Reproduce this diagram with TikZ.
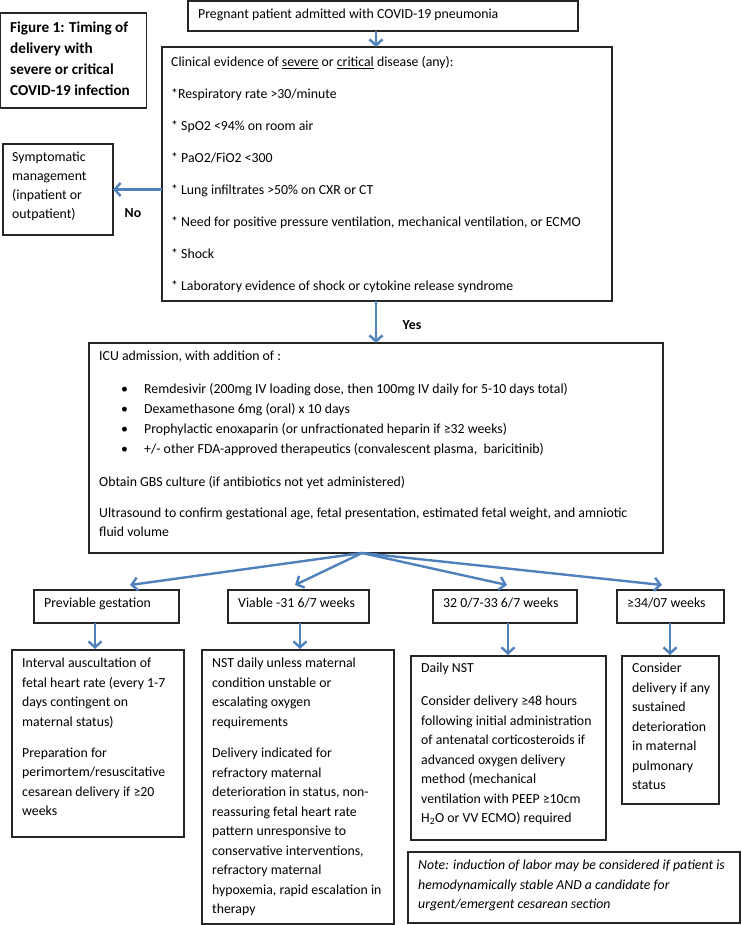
\documentclass[tikz,border=0pt]{standalone}
\usepackage{fontspec}
\setmainfont{Carlito}
\usetikzlibrary{arrows.meta,calc}
\definecolor{arrblue}{RGB}{79,129,189}
\begin{document}
\begin{tikzpicture}[x=1pt,y=-1pt,
  box/.style={draw=black!85,line width=1.2pt,anchor=north west,inner sep=0pt,outer sep=0pt},
  txt/.style={anchor=north west,inner sep=0pt,align=left,font=\fontsize{13.8}{19.5}\selectfont},
  lbl/.style={inner sep=0pt,font=\fontsize{13.8}{16}\selectfont\bfseries},
  arr/.style={draw=arrblue,line width=2.4pt,-{Straight Barb[length=6pt,width=13pt]}}
]
\useasboundingbox (0,0) rectangle (741,925);

% boxes
\node[box,minimum width=146pt,minimum height=95pt] (title) at (0.7,13) {};
\node[box,minimum width=390pt,minimum height=30pt] (top) at (188,1) {};
\node[box,minimum width=450pt,minimum height=254pt] (clin) at (162,47) {};
\node[box,minimum width=110pt,minimum height=91pt] (symp) at (3,144) {};
\node[box,minimum width=574pt,minimum height=210pt] (icu) at (89,343) {};
\node[box,minimum width=145pt,minimum height=33pt] (prev) at (34,590) {};
\node[box,minimum width=141pt,minimum height=33pt] (viab) at (228,590) {};
\node[box,minimum width=144pt,minimum height=33pt] (w32) at (433,590) {};
\node[box,minimum width=107pt,minimum height=33pt] (w34) at (617,590) {};
\node[box,minimum width=172pt,minimum height=187pt] (int) at (12,650) {};
\node[box,minimum width=192pt,minimum height=274pt] (nst) at (202,650) {};
\node[box,minimum width=195pt,minimum height=184pt] (dnst) at (411,656) {};
\node[box,minimum width=97pt,minimum height=148pt] (cons) at (622,656) {};
\node[box,minimum width=332pt,minimum height=71pt] (note) at (408,852) {};

% texts
\node[txt,font=\fontsize{15.2}{21}\selectfont\bfseries] (titletxt) at (10,22)
  {Figure 1: Timing of\\ delivery with\\ severe or critical\\ COVID-19 infection};
\node[txt] (toptxt) at (198,8.5) {Pregnant patient admitted with COVID-19 pneumonia};
\node[txt] (clintxt) at (171,56) {Clinical evidence of \underline{severe} or \underline{critical} disease (any):\\[12.5pt]
  *Respiratory rate >30/minute\\[12.5pt]
  * SpO2 <94\% on room air\\[12.5pt]
  * PaO2/FiO2 <300\\[12.5pt]
  * Lung infiltrates >50\% on CXR or CT\\[12.5pt]
  * Need for positive pressure ventilation, mechanical ventilation, or ECMO\\[12.5pt]
  * Shock\\[12.5pt]
  * Laboratory evidence of shock or cytokine release syndrome};
\node[txt,font=\fontsize{13.8}{19}\selectfont] (symptxt) at (12,152) {Symptomatic\\ management\\ (inpatient or\\ outpatient)};
\node[lbl] (no) at (133,213) {No};
\node[lbl] (yes) at (412,325) {Yes};
\node[txt] (icutxt) at (99,351) {ICU admission, with addition of :\\[13.5pt]
  \hspace*{22pt}\makebox[23pt][l]{•}Remdesivir (200mg IV loading dose, then 100mg IV daily for 5-10 days total)\\[0.5pt]
  \hspace*{22pt}\makebox[23pt][l]{•}Dexamethasone 6mg (oral) x 10 days\\[0.5pt]
  \hspace*{22pt}\makebox[23pt][l]{•}Prophylactic enoxaparin (or unfractionated heparin if ≥32 weeks)\\[0.5pt]
  \hspace*{22pt}\makebox[23pt][l]{•}+/- other FDA-approved therapeutics (convalescent plasma,\ \ baricitinib)\\[13pt]
  Obtain GBS culture (if antibiotics not yet administered)\\[11.5pt]
  Ultrasound to confirm gestational age, fetal presentation, estimated fetal weight, and amniotic\\
  fluid volume};
\node[txt] (prevtxt) at (44,598) {Previable gestation};
\node[txt] (viabtxt) at (238,598) {Viable -31 6/7 weeks};
\node[txt] (w32txt) at (443,598) {32 0/7-33 6/7 weeks};
\node[txt] (w34txt) at (627,598) {≥34/07 weeks};
\node[txt] (inttxt) at (22,658) {Interval auscultation of\\ fetal heart rate (every 1-7\\ days contingent on\\ maternal status)\\[11.5pt]
  Preparation for\\ perimortem/resuscitative\\ cesarean delivery if ≥20\\ weeks};
\node[txt] (nsttxt) at (212,658) {NST daily unless maternal\\ condition unstable or\\ escalating oxygen\\ requirements\\[12pt]
  Delivery indicated for\\ refractory maternal\\ deterioration in status, non-\\ reassuring fetal heart rate\\ pattern unresponsive to\\ conservative interventions,\\ refractory maternal\\ hypoxemia, rapid escalation in\\ therapy};
\node[txt] (dnsttxt) at (421,663) {Daily NST\\[13.5pt]
  Consider delivery ≥48 hours\\ following initial administration\\ of antenatal corticosteroids if\\ advanced oxygen delivery\\ method (mechanical\\ ventilation with PEEP ≥10cm\\ H\textsubscript{2}O or VV ECMO) required};
\node[txt] (constxt) at (632,663) {Consider\\ delivery if any\\ sustained\\ deterioration\\ in maternal\\ pulmonary\\ status};
\node[txt,font=\fontsize{13.8}{19.5}\selectfont\itshape] (notetxt) at (418,860)
  {Note: induction of labor may be considered if patient is\\ hemodynamically stable AND a candidate for\\ urgent/emergent cesarean section};

% connectors
\draw[arr] ([xshift=-7pt]top.south) -- ([xshift=-7pt]top.south |- clin.north);
\draw[arr] (symp.east -| clin.west) -- (symp.east);
\draw[arr] ([xshift=-11pt]clin.south) -- ([xshift=-11pt]clin.south |- icu.north);
\coordinate (br) at ([xshift=-14pt]icu.south);
\draw[arr] (br) -- ([xshift=23.5pt,yshift=5pt]prev.north);
\draw[arr] (br) -- ([xshift=-3.5pt,yshift=5pt]viab.north);
\draw[arr] (br) -- ([xshift=2pt,yshift=5pt]w32.north);
\draw[arr] (br) -- ([xshift=-8.5pt,yshift=5pt]w34.north);
\draw[arr,shorten >=1pt] ([xshift=-11.5pt]prev.south) -- ([xshift=-11.5pt]prev.south |- int.north);
\draw[arr,shorten >=1pt] ([xshift=1.5pt]viab.south) -- ([xshift=1.5pt]viab.south |- nst.north);
\draw[arr,shorten >=1pt] ([xshift=3pt]w32.south) -- ([xshift=3pt]w32.south |- dnst.north);
\draw[arr,shorten >=1pt] ([xshift=-0.5pt]w34.south) -- ([xshift=-0.5pt]w34.south |- cons.north);
\end{tikzpicture}
\end{document}
